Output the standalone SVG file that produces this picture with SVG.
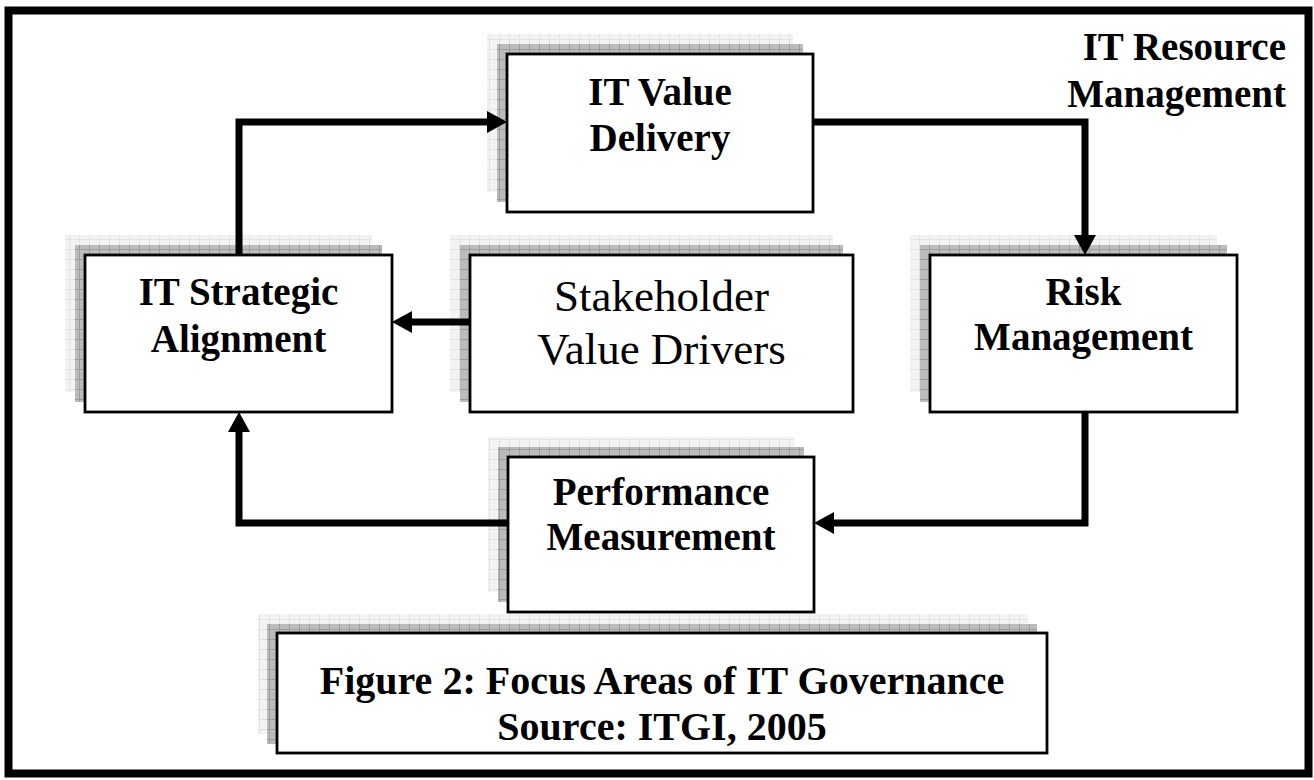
<svg xmlns="http://www.w3.org/2000/svg" width="1314" height="780" viewBox="0 0 1314 780">
<defs>
<pattern id="pLight" width="10" height="10" patternUnits="userSpaceOnUse">
<rect width="10" height="10" fill="#f3f3f3"/>
<path d="M9.5,0V10M0,9.5H10" stroke="#e3e3e3" stroke-width="1"/>
</pattern>
<pattern id="pDark" width="10" height="10" patternUnits="userSpaceOnUse">
<rect width="10" height="10" fill="#bcbcbc"/>
<path d="M9.5,0V10M0,9.5H10" stroke="#9c9c9c" stroke-width="1"/>
</pattern>
<marker id="arr" markerUnits="userSpaceOnUse" markerWidth="22" markerHeight="24" refX="0" refY="11" orient="auto" viewBox="0 0 22 22">
<path d="M0,0 L20,11 L0,22 Z" fill="#000"/>
</marker>
</defs>
<style>
.light{fill:url(#pLight);}
.dark{fill:url(#pDark);}
.box{fill:#fff;stroke:#000;stroke-width:2.8;}
.lb{font-family:"Liberation Serif","Times New Roman",serif;font-weight:bold;font-size:39px;fill:#000;text-anchor:middle;}
.lr{font-family:"Liberation Serif","Times New Roman",serif;font-size:45px;fill:#000;text-anchor:middle;}
.conn{fill:none;stroke:#000;stroke-width:7;stroke-linejoin:miter;marker-end:url(#arr);}
</style>
<rect x="0" y="0" width="1314" height="780" fill="#fff"/>
<rect x="8.5" y="10.5" width="1300" height="763" fill="#fff" stroke="#000" stroke-width="8"/>

<g id="it-resource-management">
<text class="lb" x="1286" y="60" style="text-anchor:end">IT Resource</text>
<text class="lb" x="1286" y="107" style="text-anchor:end">Management</text>
</g>

<g id="it-value-delivery">
<rect class="light" x="487" y="34" width="306" height="158"/>
<rect class="dark" x="497" y="44" width="306" height="158"/>
<rect class="box" x="507" y="54" width="306" height="158"/>
<text class="lb" x="660" y="105">IT Value</text>
<text class="lb" x="660" y="151">Delivery</text>
</g>

<g id="it-strategic-alignment">
<rect class="light" x="65" y="235" width="307" height="157"/>
<rect class="dark" x="75" y="245" width="307" height="157"/>
<rect class="box" x="85" y="255" width="307" height="157"/>
<text class="lb" x="238.5" y="305">IT Strategic</text>
<text class="lb" x="238.5" y="352">Alignment</text>
</g>

<g id="stakeholder-value-drivers">
<rect class="light" x="450" y="235" width="383" height="157"/>
<rect class="dark" x="460" y="245" width="383" height="157"/>
<rect class="box" x="470" y="255" width="383" height="157"/>
<text class="lr" x="661.5" y="311">Stakeholder</text>
<text class="lr" x="661.5" y="364">Value Drivers</text>
</g>

<g id="risk-management">
<rect class="light" x="910" y="235" width="307" height="157"/>
<rect class="dark" x="920" y="245" width="307" height="157"/>
<rect class="box" x="930" y="255" width="307" height="157"/>
<text class="lb" x="1083.5" y="305">Risk</text>
<text class="lb" x="1083.5" y="350">Management</text>
</g>

<g id="performance-measurement">
<rect class="light" x="488" y="437" width="306" height="155"/>
<rect class="dark" x="498" y="447" width="306" height="155"/>
<rect class="box" x="508" y="457" width="306" height="155"/>
<text class="lb" x="661" y="505">Performance</text>
<text class="lb" x="661" y="550">Measurement</text>
</g>

<g id="figure-caption">
<rect class="light" x="258" y="614" width="770" height="120"/>
<rect class="dark" x="267" y="624" width="770" height="120"/>
<rect class="box" x="277" y="633" width="770" height="120"/>
<text class="lb" x="662" y="694" style="font-size:40px">Figure 2: Focus Areas of IT Governance</text>
<text class="lb" x="662" y="740" style="font-size:40px">Source: ITGI, 2005</text>
</g>

<g id="connectors">
<path class="conn" d="M239,255 V122 H487"/>
<path class="conn" d="M813,122 H1085 V235"/>
<path class="conn" d="M1085,412 V523 H834"/>
<path class="conn" d="M508,523 H239 V432"/>
<path class="conn" d="M470,322 H412"/>
</g>
</svg>
